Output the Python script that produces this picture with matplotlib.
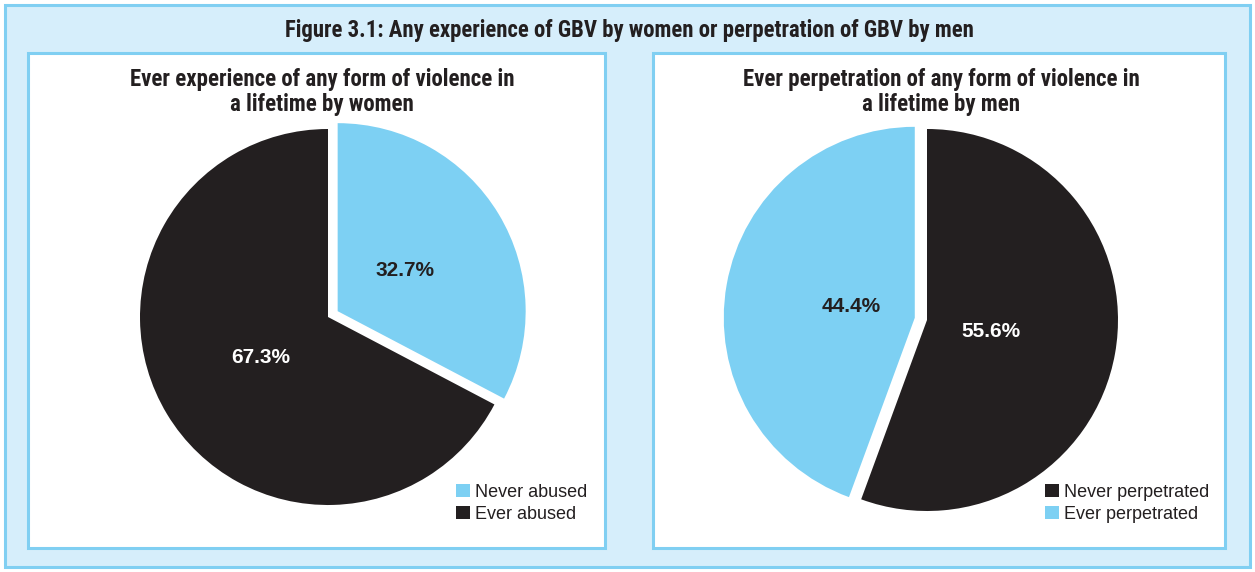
import matplotlib
matplotlib.use("Agg")
import matplotlib.pyplot as plt
from matplotlib.patches import Rectangle, Patch
from matplotlib import font_manager as fm

# ---- data ----
fig_title = "Figure 3.1: Any experience of GBV by women or perpetration of GBV by men"
left_title = "Ever experience of any form of violence in\na lifetime by women"
right_title = "Ever perpetration of any form of violence in\na lifetime by men"
left_labels = ["Never abused", "Ever abused"]
left_values = [32.7, 67.3]
right_labels = ["Never perpetrated", "Ever perpetrated"]
right_values = [55.6, 44.4]

BLUE = "#7dd0f3"
BLACK = "#231f20"
BG = "#d6eefb"
BORDER = "#80cff2"

names = {f.name for f in fm.fontManager.ttflist}
cond = "DejaVu Sans"
for cand in ["Liberation Sans Narrow", "Roboto Condensed", "Open Sans Condensed", "Liberation Sans"]:
    if cand in names:
        cond = cand
        break
body = "Liberation Sans" if "Liberation Sans" in names else "DejaVu Sans"

W, H = 1255, 572
fig = plt.figure(figsize=(W / 100, H / 100), dpi=100, facecolor="white")

def fx(px):
    return px / W

def fy(py):
    return 1 - py / H

def rect(x0, y0, x1, y1, fc, ec, lw):
    fig.patches.append(Rectangle((fx(x0), fy(y1)), fx(x1) - fx(x0), fy(y0) - fy(y1),
                                 transform=fig.transFigure, facecolor=fc, edgecolor=ec,
                                 linewidth=lw, zorder=-5))

rect(5, 5, 1250, 567, BG, BORDER, 2.2)
rect(28, 53, 605, 548, "white", BORDER, 2.2)
rect(653, 53, 1225, 548, "white", BORDER, 2.2)

fig.text(fx(629), fy(30), fig_title, ha="center", va="center", fontsize=16.4,
         fontweight="bold", family=cond, color=BLACK)
fig.text(fx(322), fy(92), left_title, ha="center", va="center", fontsize=16.5,
         fontweight="bold", family=cond, color=BLACK, linespacing=1.15)
fig.text(fx(941), fy(92), right_title, ha="center", va="center", fontsize=16.5,
         fontweight="bold", family=cond, color=BLACK, linespacing=1.15)

def pie_axes(cx, cy, r):
    ax = fig.add_axes([fx(cx - r), fy(cy + r), fx(2 * r), fy(cy - r) - fy(cy + r)])
    ax.set_axis_off()
    ax.set_zorder(2)
    return ax

# left pie
axl = pie_axes(328, 317, 188)
wl, tl, al = axl.pie(left_values, colors=[BLUE, BLACK], startangle=90, counterclock=False,
                     explode=[0.06, 0], autopct="%.1f%%", pctdistance=0.42,
                     textprops=dict(fontsize=15, fontweight="bold", family=body))
al[0].set_color(BLACK)
al[1].set_color("white")
axl.set_xlim(-1, 1)
axl.set_ylim(-1, 1)
axl.set_aspect("equal")

# right pie
axr = pie_axes(927, 320, 191)
wr, tr, ar = axr.pie(right_values, colors=[BLACK, BLUE], startangle=90, counterclock=False,
                     explode=[0, 0.065], autopct="%.1f%%", pctdistance=0.34,
                     textprops=dict(fontsize=15, fontweight="bold", family=body))
ar[0].set_color("white")
ar[1].set_color(BLACK)
axr.set_xlim(-1, 1)
axr.set_ylim(-1, 1)
axr.set_aspect("equal")

def legend(labels, colors, x, y):
    handles = [Patch(facecolor=c, edgecolor="none", label=l) for l, c in zip(labels, colors)]
    leg = fig.legend(handles=handles, loc="upper left", bbox_to_anchor=(fx(x), fy(y)),
                     frameon=False, handlelength=0.75, handleheight=0.75,
                     handletextpad=0.3, labelspacing=0.25, borderpad=0, borderaxespad=0,
                     prop=dict(family=body, size=13))
    leg.set_zorder(3)
    for t in leg.get_texts():
        t.set_color(BLACK)

legend(left_labels, [BLUE, BLACK], 456, 484)
legend(right_labels, [BLACK, BLUE], 1045, 484)

fig.savefig("out.png", dpi=100, facecolor="white")
